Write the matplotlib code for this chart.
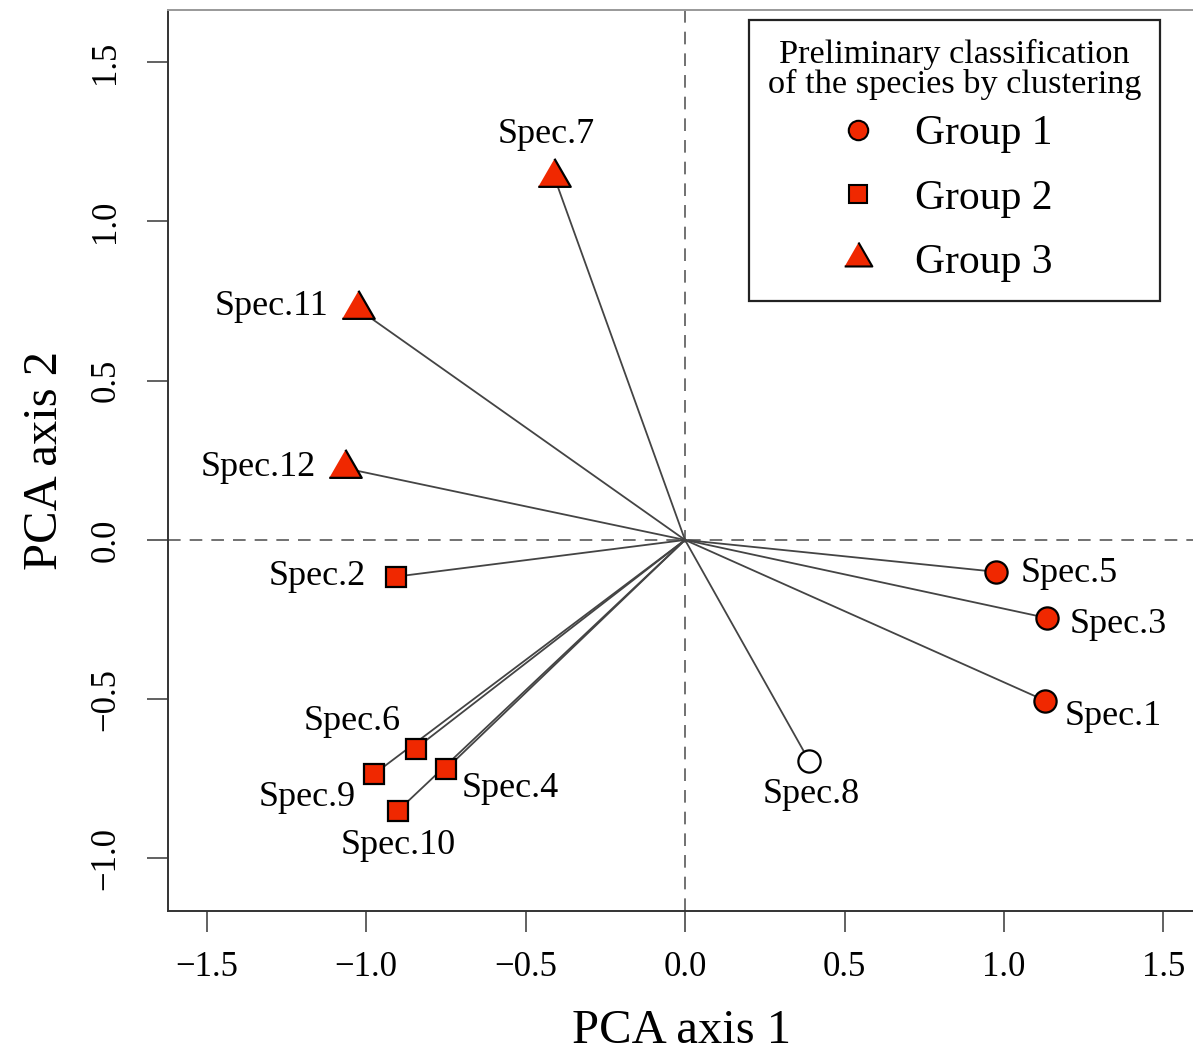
import numpy as np
import matplotlib
matplotlib.use("Agg")
import matplotlib.pyplot as plt
from matplotlib.lines import Line2D

plt.rcParams['font.family'] = ['Liberation Serif', 'DejaVu Serif']

# species scores on the first two PCA axes
especes = ["Spec.1", "Spec.2", "Spec.3", "Spec.4", "Spec.5", "Spec.6",
           "Spec.7", "Spec.8", "Spec.9", "Spec.10", "Spec.11", "Spec.12"]
axe1 = [1.13, -0.905, 1.135, -0.75, 0.975, -0.845,
        -0.41, 0.39, -0.975, -0.90, -1.025, -1.065]
axe2 = [-0.505, -0.115, -0.245, -0.72, -0.10, -0.655,
        1.14, -0.695, -0.735, -0.85, 0.725, 0.225]
groupe = [1, 2, 1, 2, 1, 2, 3, 0, 2, 2, 3, 3]   # 0 = not classified

groupes = ["Group 1", "Group 2", "Group 3"]
titre_legende = "Preliminary classification\nof the species by clustering"

# label offsets (pixels) from each point
decal = [(68, -16), (-79, 0), (71, -7), (64, -19), (73, -2), (-63, 27),
         (-8, 42), (2, -33), (-67, -23), (0, -35), (-87, 3), (-87, 1)]

rouge = '#f02800'
tri = [(-1, -0.577), (1, -0.577), (0, 1.155)]
marqueurs = {0: ('o', 16), 1: ('o', 16), 2: ('s', 15), 3: (tri, 27)}
marq_leg = {1: ('o', 14), 2: ('s', 13), 3: (tri, 23)}

fig = plt.figure(figsize=(11.93, 10.59), dpi=100)
ax = fig.add_axes([168/1193, 148/1059, 1028/1193, 901/1059])

ax.axhline(0, color='#666666', ls=(0, (7, 5)), lw=1.3, zorder=1)
ax.axvline(0, color='#666666', ls=(0, (7, 5)), lw=1.3, zorder=1)

for i in range(len(especes)):
    ax.plot([0, axe1[i]], [0, axe2[i]], color='#444444', lw=1.3, zorder=2)

for i in range(len(especes)):
    m, s = marqueurs[groupe[i]]
    fc = 'white' if groupe[i] == 0 else rouge
    ax.plot(axe1[i], axe2[i], ls='', marker=m, ms=s, mfc=fc, mec='black',
            mew=1.6, zorder=3)
    ax.annotate(especes[i], (axe1[i], axe2[i]), xytext=decal[i],
                textcoords='offset pixels', ha='center', va='center',
                fontsize=26, zorder=4)

ax.set_xlim(-1.621, 1.602)
ax.set_ylim(-1.165, 1.664)
ax.set_xticks(np.arange(-1.5, 1.51, 0.5))
ax.set_yticks(np.arange(-1.0, 1.51, 0.5))
ax.set_xticklabels(["\u22121.5", "\u22121.0", "\u22120.5", "0.0", "0.5", "1.0", "1.5"])
ax.set_yticklabels(["\u22121.0", "\u22120.5", "0.0", "0.5", "1.0", "1.5"],
                   rotation=90, va='center')
ax.tick_params(length=15, width=1.3, color='#555555', labelsize=25, pad=14)
ax.tick_params(axis='y', pad=18)
for sp in ax.spines.values():
    sp.set_color('#333333')
    sp.set_linewidth(1.4)
ax.spines['top'].set_color('#999999')

ax.set_xlabel("PCA axis 1", fontsize=35, labelpad=18)
ax.set_ylabel("PCA axis 2", fontsize=35, labelpad=16)

poignees = []
for g in [1, 2, 3]:
    m, s = marq_leg[g]
    poignees.append(Line2D([], [], ls='', marker=m, ms=s, mfc=rouge,
                           mec='black', mew=1.5))
leg = ax.legend(poignees, groupes, title=titre_legende, loc='upper right',
                bbox_to_anchor=(0.965, 0.989), borderaxespad=0,
                fontsize=30, title_fontsize=24.7,
                fancybox=False, edgecolor='#222222', framealpha=1,
                borderpad=0.45, labelspacing=0.62, handletextpad=1.34,
                handlelength=0.05)
leg.get_frame().set_linewidth(1.6)
leg.get_title().set_multialignment('center')
leg.get_title().set_linespacing(0.95)
leg._legend_box.sep = 11   # points: gap between title and entries

fig.savefig("out.png", dpi=100)
